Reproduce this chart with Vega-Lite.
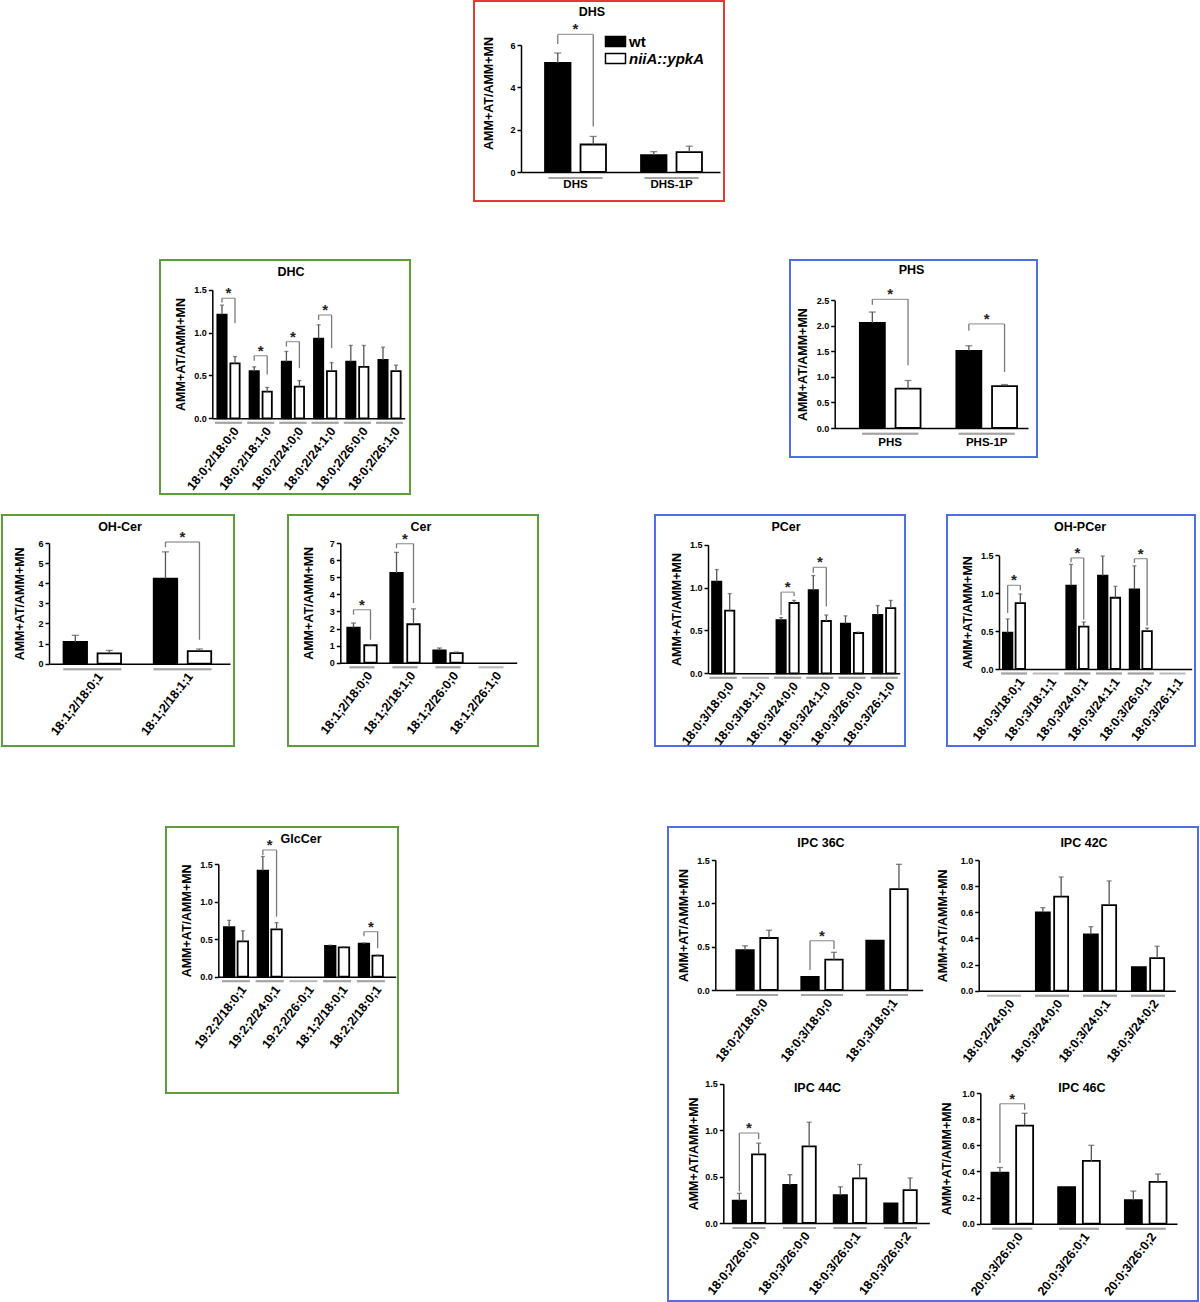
{
"$schema": "https://vega.github.io/schema/vega-lite/v6.json",
"padding": 0,
"background": "white",
"datasets": {
"bars": [
{"p":"DHS","c":"DHS","g":"wt","v":5.15,"e":5.62},
{"p":"DHS","c":"DHS","g":"niiA::ypkA","v":1.30,"e":1.68},
{"p":"DHS","c":"DHS-1P","g":"wt","v":0.80,"e":0.96},
{"p":"DHS","c":"DHS-1P","g":"niiA::ypkA","v":0.94,"e":1.22},
{"p":"DHC","c":"18:0;2/18:0;0","g":"wt","v":1.21,"e":1.32},
{"p":"DHC","c":"18:0;2/18:0;0","g":"niiA::ypkA","v":0.64,"e":0.72},
{"p":"DHC","c":"18:0;2/18:1;0","g":"wt","v":0.55,"e":0.60},
{"p":"DHC","c":"18:0;2/18:1;0","g":"niiA::ypkA","v":0.31,"e":0.36},
{"p":"DHC","c":"18:0;2/24:0;0","g":"wt","v":0.66,"e":0.78},
{"p":"DHC","c":"18:0;2/24:0;0","g":"niiA::ypkA","v":0.37,"e":0.44},
{"p":"DHC","c":"18:0;2/24:1;0","g":"wt","v":0.93,"e":1.09},
{"p":"DHC","c":"18:0;2/24:1;0","g":"niiA::ypkA","v":0.55,"e":0.65},
{"p":"DHC","c":"18:0;2/26:0;0","g":"wt","v":0.66,"e":0.85},
{"p":"DHC","c":"18:0;2/26:0;0","g":"niiA::ypkA","v":0.60,"e":0.85},
{"p":"DHC","c":"18:0;2/26:1;0","g":"wt","v":0.68,"e":0.83},
{"p":"DHC","c":"18:0;2/26:1;0","g":"niiA::ypkA","v":0.55,"e":0.62},
{"p":"PHS","c":"PHS","g":"wt","v":2.06,"e":2.27},
{"p":"PHS","c":"PHS","g":"niiA::ypkA","v":0.77,"e":0.93},
{"p":"PHS","c":"PHS-1P","g":"wt","v":1.51,"e":1.61},
{"p":"PHS","c":"PHS-1P","g":"niiA::ypkA","v":0.82,"e":0.85},
{"p":"OHCer","c":"18:1;2/18:0;1","g":"wt","v":1.08,"e":1.41},
{"p":"OHCer","c":"18:1;2/18:0;1","g":"niiA::ypkA","v":0.51,"e":0.66},
{"p":"OHCer","c":"18:1;2/18:1;1","g":"wt","v":4.23,"e":5.56},
{"p":"OHCer","c":"18:1;2/18:1;1","g":"niiA::ypkA","v":0.63,"e":0.73},
{"p":"Cer","c":"18:1;2/18:0;0","g":"wt","v":2.05,"e":2.32},
{"p":"Cer","c":"18:1;2/18:0;0","g":"niiA::ypkA","v":1.02,"e":1.05},
{"p":"Cer","c":"18:1;2/18:1;0","g":"wt","v":5.25,"e":6.45},
{"p":"Cer","c":"18:1;2/18:1;0","g":"niiA::ypkA","v":2.25,"e":3.15},
{"p":"Cer","c":"18:1;2/26:0;0","g":"wt","v":0.72,"e":0.86},
{"p":"Cer","c":"18:1;2/26:0;0","g":"niiA::ypkA","v":0.56,"e":0.62},
{"p":"Cer","c":"18:1;2/26:1;0","g":"wt","v":null,"e":null},
{"p":"PCer","c":"18:0;3/18:0;0","g":"wt","v":1.07,"e":1.21},
{"p":"PCer","c":"18:0;3/18:0;0","g":"niiA::ypkA","v":0.73,"e":0.93},
{"p":"PCer","c":"18:0;3/18:1;0","g":"wt","v":null,"e":null},
{"p":"PCer","c":"18:0;3/24:0;0","g":"wt","v":0.62,"e":0.65},
{"p":"PCer","c":"18:0;3/24:0;0","g":"niiA::ypkA","v":0.82,"e":0.85},
{"p":"PCer","c":"18:0;3/24:1;0","g":"wt","v":0.97,"e":1.14},
{"p":"PCer","c":"18:0;3/24:1;0","g":"niiA::ypkA","v":0.61,"e":0.68},
{"p":"PCer","c":"18:0;3/26:0;0","g":"wt","v":0.58,"e":0.67},
{"p":"PCer","c":"18:0;3/26:0;0","g":"niiA::ypkA","v":0.47,"e":0.48},
{"p":"PCer","c":"18:0;3/26:1;0","g":"wt","v":0.68,"e":0.79},
{"p":"PCer","c":"18:0;3/26:1;0","g":"niiA::ypkA","v":0.76,"e":0.85},
{"p":"OHPCer","c":"18:0;3/18:0;1","g":"wt","v":0.48,"e":0.66},
{"p":"OHPCer","c":"18:0;3/18:0;1","g":"niiA::ypkA","v":0.87,"e":0.99},
{"p":"OHPCer","c":"18:0;3/18:1;1","g":"wt","v":null,"e":null},
{"p":"OHPCer","c":"18:0;3/24:0;1","g":"wt","v":1.10,"e":1.38},
{"p":"OHPCer","c":"18:0;3/24:0;1","g":"niiA::ypkA","v":0.56,"e":0.62},
{"p":"OHPCer","c":"18:0;3/24:1;1","g":"wt","v":1.23,"e":1.49},
{"p":"OHPCer","c":"18:0;3/24:1;1","g":"niiA::ypkA","v":0.94,"e":1.09},
{"p":"OHPCer","c":"18:0;3/26:0;1","g":"wt","v":1.05,"e":1.36},
{"p":"OHPCer","c":"18:0;3/26:0;1","g":"niiA::ypkA","v":0.50,"e":0.54},
{"p":"OHPCer","c":"18:0;3/26:1;1","g":"wt","v":null,"e":null},
{"p":"GlcCer","c":"19:2;2/18:0;1","g":"wt","v":0.66,"e":0.75},
{"p":"GlcCer","c":"19:2;2/18:0;1","g":"niiA::ypkA","v":0.47,"e":0.61},
{"p":"GlcCer","c":"19:2;2/24:0;1","g":"wt","v":1.41,"e":1.60},
{"p":"GlcCer","c":"19:2;2/24:0;1","g":"niiA::ypkA","v":0.63,"e":0.72},
{"p":"GlcCer","c":"19:2;2/26:0;1","g":"wt","v":null,"e":null},
{"p":"GlcCer","c":"18:1;2/18:0;1","g":"wt","v":0.41,"e":0.42},
{"p":"GlcCer","c":"18:1;2/18:0;1","g":"niiA::ypkA","v":0.39,"e":0.40},
{"p":"GlcCer","c":"18:2;2/18:0;1","g":"wt","v":0.44,"e":0.45},
{"p":"GlcCer","c":"18:2;2/18:0;1","g":"niiA::ypkA","v":0.28,"e":0.29},
{"p":"IPC36","c":"18:0;2/18:0;0","g":"wt","v":0.46,"e":0.51},
{"p":"IPC36","c":"18:0;2/18:0;0","g":"niiA::ypkA","v":0.60,"e":0.69},
{"p":"IPC36","c":"18:0;3/18:0;0","g":"wt","v":0.15,"e":null},
{"p":"IPC36","c":"18:0;3/18:0;0","g":"niiA::ypkA","v":0.35,"e":0.435},
{"p":"IPC36","c":"18:0;3/18:0;1","g":"wt","v":0.57,"e":null},
{"p":"IPC36","c":"18:0;3/18:0;1","g":"niiA::ypkA","v":1.165,"e":1.45},
{"p":"IPC42","c":"18:0;2/24:0;0","g":"wt","v":null,"e":null},
{"p":"IPC42","c":"18:0;3/24:0;0","g":"wt","v":0.60,"e":0.635},
{"p":"IPC42","c":"18:0;3/24:0;0","g":"niiA::ypkA","v":0.72,"e":0.87},
{"p":"IPC42","c":"18:0;3/24:0;1","g":"wt","v":0.43,"e":0.49},
{"p":"IPC42","c":"18:0;3/24:0;1","g":"niiA::ypkA","v":0.655,"e":0.84},
{"p":"IPC42","c":"18:0;3/24:0;2","g":"wt","v":0.18,"e":null},
{"p":"IPC42","c":"18:0;3/24:0;2","g":"niiA::ypkA","v":0.25,"e":0.34},
{"p":"IPC44","c":"18:0;2/26:0;0","g":"wt","v":0.24,"e":0.32},
{"p":"IPC44","c":"18:0;2/26:0;0","g":"niiA::ypkA","v":0.74,"e":0.86},
{"p":"IPC44","c":"18:0;3/26:0;0","g":"wt","v":0.41,"e":0.52},
{"p":"IPC44","c":"18:0;3/26:0;0","g":"niiA::ypkA","v":0.825,"e":1.085},
{"p":"IPC44","c":"18:0;3/26:0;1","g":"wt","v":0.30,"e":0.39},
{"p":"IPC44","c":"18:0;3/26:0;1","g":"niiA::ypkA","v":0.48,"e":0.63},
{"p":"IPC44","c":"18:0;3/26:0;2","g":"wt","v":0.21,"e":null},
{"p":"IPC44","c":"18:0;3/26:0;2","g":"niiA::ypkA","v":0.355,"e":0.485},
{"p":"IPC46","c":"20:0;3/26:0;0","g":"wt","v":0.39,"e":0.43},
{"p":"IPC46","c":"20:0;3/26:0;0","g":"niiA::ypkA","v":0.75,"e":0.845},
{"p":"IPC46","c":"20:0;3/26:0;1","g":"wt","v":0.28,"e":null},
{"p":"IPC46","c":"20:0;3/26:0;1","g":"niiA::ypkA","v":0.48,"e":0.60},
{"p":"IPC46","c":"20:0;3/26:0;2","g":"wt","v":0.18,"e":0.25},
{"p":"IPC46","c":"20:0;3/26:0;2","g":"niiA::ypkA","v":0.32,"e":0.38}
],
"brackets": [
{"p":"DHS","c":"DHS","lv":6.5,"a":6.05,"b":2.15},
{"p":"DHC","c":"18:0;2/18:0;0","lv":1.40,"a":1.35,"b":1.11},
{"p":"DHC","c":"18:0;2/18:1;0","lv":0.73,"a":0.67,"b":0.51},
{"p":"DHC","c":"18:0;2/24:0;0","lv":0.895,"a":0.837,"b":0.585},
{"p":"DHC","c":"18:0;2/24:1;0","lv":1.205,"a":1.147,"b":0.818},
{"p":"PHS","c":"PHS","lv":2.52,"a":2.415,"b":1.227},
{"p":"PHS","c":"PHS-1P","lv":2.037,"a":1.906,"b":1.097},
{"p":"OHCer","c":"18:1;2/18:1;1","lv":6.05,"a":5.79,"b":1.19},
{"p":"Cer","c":"18:1;2/18:0;0","lv":3.1,"a":2.81,"b":1.34},
{"p":"Cer","c":"18:1;2/18:1;0","lv":6.96,"a":6.7,"b":3.49},
{"p":"PCer","c":"18:0;3/24:0;0","lv":0.946,"a":0.68,"b":0.903},
{"p":"PCer","c":"18:0;3/24:1;0","lv":1.236,"a":1.174,"b":0.779},
{"p":"OHPCer","c":"18:0;3/18:0;1","lv":1.104,"a":0.739,"b":1.038},
{"p":"OHPCer","c":"18:0;3/24:0;1","lv":1.465,"a":1.408,"b":0.651},
{"p":"OHPCer","c":"18:0;3/26:0;1","lv":1.456,"a":1.40,"b":0.572},
{"p":"GlcCer","c":"19:2;2/24:0;1","lv":1.687,"a":1.62,"b":0.80},
{"p":"GlcCer","c":"18:2;2/18:0;1","lv":0.60,"a":0.54,"b":0.377},
{"p":"IPC36","c":"18:0;3/18:0;0","lv":0.569,"a":0.23,"b":0.473},
{"p":"IPC44","c":"18:0;2/26:0;0","lv":0.969,"a":0.341,"b":0.904},
{"p":"IPC46","c":"20:0;3/26:0;0","lv":0.918,"a":0.464,"b":0.872}
]
},
"config": {
 "view": {"stroke": null},
 "font": "Liberation Sans",
 "axis": {"grid": false, "labelFont": "Liberation Sans", "titleFont": "Liberation Sans", "labelColor": "black", "titleColor": "black", "domainColor": "black", "tickColor": "black", "domainWidth": 1.5, "tickWidth": 1.5, "labelFontWeight": "bold", "titleFontWeight": "bold"},
 "axisX": {"ticks": false, "labelFontSize": 12.5, "labelAngle": -52, "labelAlign": "right", "labelBaseline": "middle", "labelPadding": 10, "labelOffset": 8, "labelOverlap": false, "labelBound": false},
 "axisY": {"tickSize": 4, "labelFontSize": 9, "labelPadding": 2, "titleFontSize": 12.5, "labelOverlap": false},
 "title": {"font": "Liberation Sans", "fontSize": 12.5, "fontWeight": "bold", "color": "black", "baseline": "middle", "frame": "group", "anchor": "middle"}
},
"spacing": 57,
"bounds": "full",
"resolve": {"scale": {"xOffset": "independent"}},
"vconcat": [
{"hconcat": [
 {"width": 474, "height": 1, "data": {"values": []}, "mark": "point"},
 {"width": 250, "height": 200, "view": {"stroke": "#e23b32", "strokeWidth": 2},
  "title": {"text": "DHS", "dx": -7, "offset": -17},
  "data": {"name": "bars"}, "transform": [{"filter": "datum.p === 'DHS'"}],
  "encoding": {"x": {"field": "c", "type": "nominal", "title": null, "scale": {"domain": ["DHS","DHS-1P"], "range": [47,246], "paddingInner": 0.291, "paddingOuter": 0.182, "align": 0.586}, "axis": {"orient": "bottom", "offset": -29, "labelAngle": 0, "labelAlign": "center", "labelBaseline": "top", "labelPadding": 6, "labelOffset": 0, "labelFontSize": 11.5}}},
  "layer": [
   {"mark": {"type": "bar", "stroke": "black", "strokeWidth": 1.8}, "encoding": {
     "xOffset": {"field": "g", "type": "nominal", "scale": {"domain": ["wt","niiA::ypkA"], "paddingInner": 0.282, "paddingOuter": 0.1}},
     "y": {"field": "v", "type": "quantitative", "scale": {"domain": [0,6], "range": [171,44], "nice": false}, "axis": {"orient": "left", "offset": -47, "values": [0,2,4,6], "tickCount": 4, "labelOverlap": false, "title": "AMM+AT/AMM+MN", "titleX": -26, "titleY": 92}},
     "fill": {"field": "g", "type": "nominal", "scale": {"domain": ["wt","niiA::ypkA"], "range": ["black","white"]}, "legend": {"orient": "none", "legendX": 608, "legendY": 33, "title": null, "direction": "vertical", "padding": 0, "symbolType": "M-1.5,-0.75H1.5V0.75H-1.5Z", "symbolSize": 178, "symbolStrokeColor": "black", "symbolStrokeWidth": 1.5, "labelFont": "Liberation Sans", "labelFontSize": 15, "labelFontWeight": "bold", "labelColor": "black", "labelOffset": 6, "rowPadding": 0, "encode": {"labels": {"update": {"fontStyle": {"signal": "datum.label === 'wt' ? 'normal' : 'italic'"}}}}}}}},
   {"transform": [{"filter": "isValid(datum.e)"}], "mark": {"type": "rule", "color": "#555555", "strokeWidth": 1.3}, "encoding": {
     "xOffset": {"field": "g", "type": "nominal", "scale": {"domain": ["wt","niiA::ypkA"], "paddingInner": 0.282, "paddingOuter": 0.1}},
     "y": {"field": "v", "type": "quantitative", "scale": {"domain": [0,6], "range": [171,44], "nice": false}}, "y2": {"field": "e"}}},
   {"transform": [{"filter": "isValid(datum.e)"}], "mark": {"type": "tick", "orient": "horizontal", "size": 7, "thickness": 1.3, "color": "#555555"}, "encoding": {
     "xOffset": {"field": "g", "type": "nominal", "scale": {"domain": ["wt","niiA::ypkA"], "paddingInner": 0.282, "paddingOuter": 0.1}},
     "y": {"field": "e", "type": "quantitative", "scale": {"domain": [0,6], "range": [171,44], "nice": false}}}},
   {"mark": {"type": "tick", "orient": "horizontal", "size": 54, "thickness": 2, "color": "#9a9a9a", "yOffset": 6}, "encoding": {"y": {"datum": 0, "type": "quantitative", "scale": {"domain": [0,6], "range": [171,44], "nice": false}}}},
   {"data": {"name": "brackets"}, "transform": [{"filter": "datum.p === 'DHS'"}], "layer": [
     {"mark": {"type": "rule", "color": "#7a7a7a", "strokeWidth": 1.3}, "encoding": {"xOffset": {"datum": "wt", "type": "nominal", "scale": {"domain": ["wt","niiA::ypkA"], "paddingInner": 0.282, "paddingOuter": 0.1}}, "y": {"field": "a", "type": "quantitative", "scale": {"domain": [0,6], "range": [171,44], "nice": false}}, "y2": {"field": "lv"}}},
     {"mark": {"type": "rule", "color": "#7a7a7a", "strokeWidth": 1.3}, "encoding": {"xOffset": {"datum": "niiA::ypkA", "type": "nominal", "scale": {"domain": ["wt","niiA::ypkA"], "paddingInner": 0.282, "paddingOuter": 0.1}}, "y": {"field": "b", "type": "quantitative", "scale": {"domain": [0,6], "range": [171,44], "nice": false}}, "y2": {"field": "lv"}}},
     {"mark": {"type": "tick", "orient": "horizontal", "size": 35.5, "thickness": 1.3, "color": "#7a7a7a"}, "encoding": {"y": {"field": "lv", "type": "quantitative", "scale": {"domain": [0,6], "range": [171,44], "nice": false}}}},
     {"mark": {"type": "text", "text": "*", "fontSize": 15, "fontWeight": "bold", "color": "#222222", "baseline": "alphabetic", "dy": 0}, "encoding": {"y": {"field": "lv", "type": "quantitative", "scale": {"domain": [0,6], "range": [171,44], "nice": false}}}}
   ]}
  ]}
 ], "spacing": 0, "bounds": "flush", "resolve": {"scale": {"xOffset": "independent"}}},
{"spacing": 19, "bounds": "full", "resolve": {"scale": {"xOffset": "independent"}}, "vconcat": [
 {"hconcat": [
  {"width": 160, "height": 1, "data": {"values": []}, "mark": "point"},
  {"width": 250, "height": 234, "view": {"stroke": "#5e9e3a", "strokeWidth": 2},
   "title": {"text": "DHC", "dx": 6, "offset": -18},
   "data": {"name": "bars"}, "transform": [{"filter": "datum.p === 'DHC'"}],
   "encoding": {"x": {"field": "c", "type": "nominal", "title": null, "scale": {"domain": ["18:0;2/18:0;0","18:0;2/18:1;0","18:0;2/24:0;0","18:0;2/24:1;0","18:0;2/26:0;0","18:0;2/26:1;0"], "range": [52.3,244.7], "paddingInner": 0.227, "paddingOuter": 0.101, "align": 0.577}, "axis": {"orient": "bottom", "offset": -75.7}}},
   "layer": [
    {"mark": {"type": "bar", "stroke": "black", "strokeWidth": 1.8}, "encoding": {
      "xOffset": {"field": "g", "type": "nominal", "scale": {"domain": ["wt","niiA::ypkA"], "paddingInner": 0.285, "paddingOuter": 0.1}},
      "y": {"field": "v", "type": "quantitative", "scale": {"domain": [0,1.5], "range": [158.3,29.7], "nice": false}, "axis": {"orient": "left", "offset": -52.3, "values": [0,0.5,1,1.5], "tickCount": 4, "labelOverlap": false, "format": ".1f", "title": "AMM+AT/AMM+MN", "titleX": -25}},
      "fill": {"field": "g", "type": "nominal", "scale": {"domain": ["wt","niiA::ypkA"], "range": ["black","white"]}, "legend": null}}},
    {"transform": [{"filter": "isValid(datum.e)"}], "mark": {"type": "rule", "color": "#555555", "strokeWidth": 1.3}, "encoding": {
      "xOffset": {"field": "g", "type": "nominal", "scale": {"domain": ["wt","niiA::ypkA"], "paddingInner": 0.285, "paddingOuter": 0.1}},
      "y": {"field": "v", "type": "quantitative", "scale": {"domain": [0,1.5], "range": [158.3,29.7], "nice": false}}, "y2": {"field": "e"}}},
    {"transform": [{"filter": "isValid(datum.e)"}], "mark": {"type": "tick", "orient": "horizontal", "size": 4, "thickness": 1.3, "color": "#555555"}, "encoding": {
      "xOffset": {"field": "g", "type": "nominal", "scale": {"domain": ["wt","niiA::ypkA"], "paddingInner": 0.285, "paddingOuter": 0.1}},
      "y": {"field": "e", "type": "quantitative", "scale": {"domain": [0,1.5], "range": [158.3,29.7], "nice": false}}}},
    {"mark": {"type": "tick", "orient": "horizontal", "size": 27, "thickness": 2, "color": "#9a9a9a", "yOffset": 4.5}, "encoding": {"y": {"datum": 0, "type": "quantitative", "scale": {"domain": [0,1.5], "range": [158.3,29.7], "nice": false}}}},
    {"data": {"name": "brackets"}, "transform": [{"filter": "datum.p === 'DHC'"}], "layer": [
      {"mark": {"type": "rule", "color": "#7a7a7a", "strokeWidth": 1.3}, "encoding": {"xOffset": {"datum": "wt", "type": "nominal", "scale": {"domain": ["wt","niiA::ypkA"], "paddingInner": 0.285, "paddingOuter": 0.1}}, "y": {"field": "a", "type": "quantitative", "scale": {"domain": [0,1.5], "range": [158.3,29.7], "nice": false}}, "y2": {"field": "lv"}}},
      {"mark": {"type": "rule", "color": "#7a7a7a", "strokeWidth": 1.3}, "encoding": {"xOffset": {"datum": "niiA::ypkA", "type": "nominal", "scale": {"domain": ["wt","niiA::ypkA"], "paddingInner": 0.285, "paddingOuter": 0.1}}, "y": {"field": "b", "type": "quantitative", "scale": {"domain": [0,1.5], "range": [158.3,29.7], "nice": false}}, "y2": {"field": "lv"}}},
      {"mark": {"type": "tick", "orient": "horizontal", "size": 13, "thickness": 1.3, "color": "#7a7a7a"}, "encoding": {"y": {"field": "lv", "type": "quantitative", "scale": {"domain": [0,1.5], "range": [158.3,29.7], "nice": false}}}},
      {"mark": {"type": "text", "text": "*", "fontSize": 15, "fontWeight": "bold", "color": "#222222", "baseline": "alphabetic", "dy": 0}, "encoding": {"y": {"field": "lv", "type": "quantitative", "scale": {"domain": [0,1.5], "range": [158.3,29.7], "nice": false}}}}
    ]}
   ]},
  {"width": 380, "height": 1, "data": {"values": []}, "mark": "point"},
  {"width": 247, "height": 197, "view": {"stroke": "#4d6fe0", "strokeWidth": 2},
   "title": {"text": "PHS", "dx": -2, "offset": -16},
   "data": {"name": "bars"}, "transform": [{"filter": "datum.p === 'PHS'"}],
   "encoding": {"x": {"field": "c", "type": "nominal", "title": null, "scale": {"domain": ["PHS","PHS-1P"], "range": [44.7,238], "paddingInner": 0.297, "paddingOuter": 0.15, "align": 0.745}, "axis": {"orient": "bottom", "offset": -29, "labelAngle": 0, "labelAlign": "center", "labelBaseline": "top", "labelPadding": 8, "labelOffset": 0, "labelFontSize": 11.5}}},
   "layer": [
    {"mark": {"type": "bar", "stroke": "black", "strokeWidth": 1.8}, "encoding": {
      "xOffset": {"field": "g", "type": "nominal", "scale": {"domain": ["wt","niiA::ypkA"], "paddingInner": 0.3, "paddingOuter": 0.1}},
      "y": {"field": "v", "type": "quantitative", "scale": {"domain": [0,2.5], "range": [168,40.3], "nice": false}, "axis": {"orient": "left", "offset": -44.7, "values": [0,0.5,1,1.5,2,2.5], "tickCount": 6, "labelOverlap": false, "format": ".1f", "title": "AMM+AT/AMM+MN", "titleX": -25}},
      "fill": {"field": "g", "type": "nominal", "scale": {"domain": ["wt","niiA::ypkA"], "range": ["black","white"]}, "legend": null}}},
    {"transform": [{"filter": "isValid(datum.e)"}], "mark": {"type": "rule", "color": "#555555", "strokeWidth": 1.3}, "encoding": {
      "xOffset": {"field": "g", "type": "nominal", "scale": {"domain": ["wt","niiA::ypkA"], "paddingInner": 0.3, "paddingOuter": 0.1}},
      "y": {"field": "v", "type": "quantitative", "scale": {"domain": [0,2.5], "range": [168,40.3], "nice": false}}, "y2": {"field": "e"}}},
    {"transform": [{"filter": "isValid(datum.e)"}], "mark": {"type": "tick", "orient": "horizontal", "size": 7, "thickness": 1.3, "color": "#555555"}, "encoding": {
      "xOffset": {"field": "g", "type": "nominal", "scale": {"domain": ["wt","niiA::ypkA"], "paddingInner": 0.3, "paddingOuter": 0.1}},
      "y": {"field": "e", "type": "quantitative", "scale": {"domain": [0,2.5], "range": [168,40.3], "nice": false}}}},
    {"mark": {"type": "tick", "orient": "horizontal", "size": 56, "thickness": 2, "color": "#9a9a9a", "yOffset": 5.7}, "encoding": {"y": {"datum": 0, "type": "quantitative", "scale": {"domain": [0,2.5], "range": [168,40.3], "nice": false}}}},
    {"data": {"name": "brackets"}, "transform": [{"filter": "datum.p === 'PHS'"}], "layer": [
      {"mark": {"type": "rule", "color": "#7a7a7a", "strokeWidth": 1.3}, "encoding": {"xOffset": {"datum": "wt", "type": "nominal", "scale": {"domain": ["wt","niiA::ypkA"], "paddingInner": 0.3, "paddingOuter": 0.1}}, "y": {"field": "a", "type": "quantitative", "scale": {"domain": [0,2.5], "range": [168,40.3], "nice": false}}, "y2": {"field": "lv"}}},
      {"mark": {"type": "rule", "color": "#7a7a7a", "strokeWidth": 1.3}, "encoding": {"xOffset": {"datum": "niiA::ypkA", "type": "nominal", "scale": {"domain": ["wt","niiA::ypkA"], "paddingInner": 0.3, "paddingOuter": 0.1}}, "y": {"field": "b", "type": "quantitative", "scale": {"domain": [0,2.5], "range": [168,40.3], "nice": false}}, "y2": {"field": "lv"}}},
      {"mark": {"type": "tick", "orient": "horizontal", "size": 35.7, "thickness": 1.3, "color": "#7a7a7a"}, "encoding": {"y": {"field": "lv", "type": "quantitative", "scale": {"domain": [0,2.5], "range": [168,40.3], "nice": false}}}},
      {"mark": {"type": "text", "text": "*", "fontSize": 15, "fontWeight": "bold", "color": "#222222", "baseline": "alphabetic", "dy": 0}, "encoding": {"y": {"field": "lv", "type": "quantitative", "scale": {"domain": [0,2.5], "range": [168,40.3], "nice": false}}}}
    ]}
   ]}
 ], "spacing": 0, "bounds": "flush", "resolve": {"scale": {"xOffset": "independent"}}},
 {"spacing": 78, "bounds": "full", "resolve": {"scale": {"xOffset": "independent"}}, "vconcat": [
  {"hconcat": [
   {"width": 2, "height": 1, "data": {"values": []}, "mark": "point"},
   {"width": 232, "height": 231, "view": {"stroke": "#5e9e3a", "strokeWidth": 2},
    "title": {"text": "OH-Cer", "dx": 2, "offset": -18},
    "data": {"name": "bars"}, "transform": [{"filter": "datum.p === 'OHCer'"}],
    "encoding": {"x": {"field": "c", "type": "nominal", "title": null, "scale": {"domain": ["18:1;2/18:0;1","18:1;2/18:1;1"], "range": [47,228], "paddingInner": 0.287, "paddingOuter": 0.147, "align": 0.42}, "axis": {"orient": "bottom", "offset": -82.3}}},
    "layer": [
     {"mark": {"type": "bar", "stroke": "black", "strokeWidth": 1.8}, "encoding": {
       "xOffset": {"field": "g", "type": "nominal", "scale": {"domain": ["wt","niiA::ypkA"], "paddingInner": 0.309, "paddingOuter": 0.1}},
       "y": {"field": "v", "type": "quantitative", "scale": {"domain": [0,6], "range": [148.7,28], "nice": false}, "axis": {"orient": "left", "offset": -47, "values": [0,1,2,3,4,5,6], "tickCount": 7, "labelOverlap": false, "title": "AMM+AT/AMM+MN", "titleX": -23}},
       "fill": {"field": "g", "type": "nominal", "scale": {"domain": ["wt","niiA::ypkA"], "range": ["black","white"]}, "legend": null}}},
     {"transform": [{"filter": "isValid(datum.e)"}], "mark": {"type": "rule", "color": "#555555", "strokeWidth": 1.3}, "encoding": {
       "xOffset": {"field": "g", "type": "nominal", "scale": {"domain": ["wt","niiA::ypkA"], "paddingInner": 0.309, "paddingOuter": 0.1}},
       "y": {"field": "v", "type": "quantitative", "scale": {"domain": [0,6], "range": [148.7,28], "nice": false}}, "y2": {"field": "e"}}},
     {"transform": [{"filter": "isValid(datum.e)"}], "mark": {"type": "tick", "orient": "horizontal", "size": 7, "thickness": 1.3, "color": "#555555"}, "encoding": {
       "xOffset": {"field": "g", "type": "nominal", "scale": {"domain": ["wt","niiA::ypkA"], "paddingInner": 0.309, "paddingOuter": 0.1}},
       "y": {"field": "e", "type": "quantitative", "scale": {"domain": [0,6], "range": [148.7,28], "nice": false}}}},
     {"mark": {"type": "tick", "orient": "horizontal", "size": 58, "thickness": 2, "color": "#9a9a9a", "yOffset": 5.6}, "encoding": {"y": {"datum": 0, "type": "quantitative", "scale": {"domain": [0,6], "range": [148.7,28], "nice": false}}}},
     {"data": {"name": "brackets"}, "transform": [{"filter": "datum.p === 'OHCer'"}], "layer": [
       {"mark": {"type": "rule", "color": "#7a7a7a", "strokeWidth": 1.3}, "encoding": {"xOffset": {"datum": "wt", "type": "nominal", "scale": {"domain": ["wt","niiA::ypkA"], "paddingInner": 0.309, "paddingOuter": 0.1}}, "y": {"field": "a", "type": "quantitative", "scale": {"domain": [0,6], "range": [148.7,28], "nice": false}}, "y2": {"field": "lv"}}},
       {"mark": {"type": "rule", "color": "#7a7a7a", "strokeWidth": 1.3}, "encoding": {"xOffset": {"datum": "niiA::ypkA", "type": "nominal", "scale": {"domain": ["wt","niiA::ypkA"], "paddingInner": 0.309, "paddingOuter": 0.1}}, "y": {"field": "b", "type": "quantitative", "scale": {"domain": [0,6], "range": [148.7,28], "nice": false}}, "y2": {"field": "lv"}}},
       {"mark": {"type": "tick", "orient": "horizontal", "size": 34, "thickness": 1.3, "color": "#7a7a7a"}, "encoding": {"y": {"field": "lv", "type": "quantitative", "scale": {"domain": [0,6], "range": [148.7,28], "nice": false}}}},
       {"mark": {"type": "text", "text": "*", "fontSize": 15, "fontWeight": "bold", "color": "#222222", "baseline": "alphabetic", "dy": 0}, "encoding": {"y": {"field": "lv", "type": "quantitative", "scale": {"domain": [0,6], "range": [148.7,28], "nice": false}}}}
     ]}
    ]},
   {"width": 54, "height": 1, "data": {"values": []}, "mark": "point"},
   {"width": 250, "height": 231, "view": {"stroke": "#5e9e3a", "strokeWidth": 2},
    "title": {"text": "Cer", "dx": 8, "offset": -18},
    "data": {"name": "bars"}, "transform": [{"filter": "datum.p === 'Cer'"}],
    "encoding": {"x": {"field": "c", "type": "nominal", "title": null, "scale": {"domain": ["18:1;2/18:0;0","18:1;2/18:1;0","18:1;2/26:0;0","18:1;2/26:1;0"], "range": [52.3,228.7], "paddingInner": 0.235, "paddingOuter": 0.169, "align": 0.362}, "axis": {"orient": "bottom", "offset": -83.3}}},
    "layer": [
     {"mark": {"type": "bar", "stroke": "black", "strokeWidth": 1.8}, "encoding": {
       "xOffset": {"field": "g", "type": "nominal", "scale": {"domain": ["wt","niiA::ypkA"], "paddingInner": 0.265, "paddingOuter": 0.1}},
       "y": {"field": "v", "type": "quantitative", "scale": {"domain": [0,7], "range": [147.7,28], "nice": false}, "axis": {"orient": "left", "offset": -52.3, "values": [0,1,2,3,4,5,6,7], "tickCount": 8, "labelOverlap": false, "title": "AMM+AT/AMM+MN", "titleX": -25}},
       "fill": {"field": "g", "type": "nominal", "scale": {"domain": ["wt","niiA::ypkA"], "range": ["black","white"]}, "legend": null}}},
     {"transform": [{"filter": "isValid(datum.e)"}], "mark": {"type": "rule", "color": "#555555", "strokeWidth": 1.3}, "encoding": {
       "xOffset": {"field": "g", "type": "nominal", "scale": {"domain": ["wt","niiA::ypkA"], "paddingInner": 0.265, "paddingOuter": 0.1}},
       "y": {"field": "v", "type": "quantitative", "scale": {"domain": [0,7], "range": [147.7,28], "nice": false}}, "y2": {"field": "e"}}},
     {"transform": [{"filter": "isValid(datum.e)"}], "mark": {"type": "tick", "orient": "horizontal", "size": 5, "thickness": 1.3, "color": "#555555"}, "encoding": {
       "xOffset": {"field": "g", "type": "nominal", "scale": {"domain": ["wt","niiA::ypkA"], "paddingInner": 0.265, "paddingOuter": 0.1}},
       "y": {"field": "e", "type": "quantitative", "scale": {"domain": [0,7], "range": [147.7,28], "nice": false}}}},
     {"mark": {"type": "tick", "orient": "horizontal", "size": 25, "thickness": 2, "color": "#9a9a9a", "yOffset": 4.6}, "encoding": {"y": {"datum": 0, "type": "quantitative", "scale": {"domain": [0,7], "range": [147.7,28], "nice": false}}}},
     {"data": {"name": "brackets"}, "transform": [{"filter": "datum.p === 'Cer'"}], "layer": [
       {"mark": {"type": "rule", "color": "#7a7a7a", "strokeWidth": 1.3}, "encoding": {"xOffset": {"datum": "wt", "type": "nominal", "scale": {"domain": ["wt","niiA::ypkA"], "paddingInner": 0.265, "paddingOuter": 0.1}}, "y": {"field": "a", "type": "quantitative", "scale": {"domain": [0,7], "range": [147.7,28], "nice": false}}, "y2": {"field": "lv"}}},
       {"mark": {"type": "rule", "color": "#7a7a7a", "strokeWidth": 1.3}, "encoding": {"xOffset": {"datum": "niiA::ypkA", "type": "nominal", "scale": {"domain": ["wt","niiA::ypkA"], "paddingInner": 0.265, "paddingOuter": 0.1}}, "y": {"field": "b", "type": "quantitative", "scale": {"domain": [0,7], "range": [147.7,28], "nice": false}}, "y2": {"field": "lv"}}},
       {"mark": {"type": "tick", "orient": "horizontal", "size": 17, "thickness": 1.3, "color": "#7a7a7a"}, "encoding": {"y": {"field": "lv", "type": "quantitative", "scale": {"domain": [0,7], "range": [147.7,28], "nice": false}}}},
       {"mark": {"type": "text", "text": "*", "fontSize": 15, "fontWeight": "bold", "color": "#222222", "baseline": "alphabetic", "dy": 0}, "encoding": {"y": {"field": "lv", "type": "quantitative", "scale": {"domain": [0,7], "range": [147.7,28], "nice": false}}}}
     ]}
    ]},
   {"width": 117, "height": 1, "data": {"values": []}, "mark": "point"},
   {"width": 250, "height": 231, "view": {"stroke": "#4d6fe0", "strokeWidth": 2},
    "title": {"text": "PCer", "dx": 6, "offset": -18},
    "data": {"name": "bars"}, "transform": [{"filter": "datum.p === 'PCer'"}],
    "encoding": {"x": {"field": "c", "type": "nominal", "title": null, "scale": {"domain": ["18:0;3/18:0;0","18:0;3/18:1;0","18:0;3/24:0;0","18:0;3/24:1;0","18:0;3/26:0;0","18:0;3/26:1;0"], "range": [53,244.7], "paddingInner": 0.227, "paddingOuter": 0.09, "align": 0.474}, "axis": {"orient": "bottom", "offset": -72.7}}},
    "layer": [
     {"mark": {"type": "bar", "stroke": "black", "strokeWidth": 1.8}, "encoding": {
       "xOffset": {"field": "g", "type": "nominal", "scale": {"domain": ["wt","niiA::ypkA"], "paddingInner": 0.285, "paddingOuter": 0.1}},
       "y": {"field": "v", "type": "quantitative", "scale": {"domain": [0,1.5], "range": [158.3,29.7], "nice": false}, "axis": {"orient": "left", "offset": -53, "values": [0,0.5,1,1.5], "tickCount": 4, "labelOverlap": false, "format": ".1f", "title": "AMM+AT/AMM+MN", "titleX": -25}},
       "fill": {"field": "g", "type": "nominal", "scale": {"domain": ["wt","niiA::ypkA"], "range": ["black","white"]}, "legend": null}}},
     {"transform": [{"filter": "isValid(datum.e)"}], "mark": {"type": "rule", "color": "#555555", "strokeWidth": 1.3}, "encoding": {
       "xOffset": {"field": "g", "type": "nominal", "scale": {"domain": ["wt","niiA::ypkA"], "paddingInner": 0.285, "paddingOuter": 0.1}},
       "y": {"field": "v", "type": "quantitative", "scale": {"domain": [0,1.5], "range": [158.3,29.7], "nice": false}}, "y2": {"field": "e"}}},
     {"transform": [{"filter": "isValid(datum.e)"}], "mark": {"type": "tick", "orient": "horizontal", "size": 4, "thickness": 1.3, "color": "#555555"}, "encoding": {
       "xOffset": {"field": "g", "type": "nominal", "scale": {"domain": ["wt","niiA::ypkA"], "paddingInner": 0.285, "paddingOuter": 0.1}},
       "y": {"field": "e", "type": "quantitative", "scale": {"domain": [0,1.5], "range": [158.3,29.7], "nice": false}}}},
     {"mark": {"type": "tick", "orient": "horizontal", "size": 27, "thickness": 2, "color": "#9a9a9a", "yOffset": 4.5}, "encoding": {"y": {"datum": 0, "type": "quantitative", "scale": {"domain": [0,1.5], "range": [158.3,29.7], "nice": false}}}},
     {"data": {"name": "brackets"}, "transform": [{"filter": "datum.p === 'PCer'"}], "layer": [
       {"mark": {"type": "rule", "color": "#7a7a7a", "strokeWidth": 1.3}, "encoding": {"xOffset": {"datum": "wt", "type": "nominal", "scale": {"domain": ["wt","niiA::ypkA"], "paddingInner": 0.285, "paddingOuter": 0.1}}, "y": {"field": "a", "type": "quantitative", "scale": {"domain": [0,1.5], "range": [158.3,29.7], "nice": false}}, "y2": {"field": "lv"}}},
       {"mark": {"type": "rule", "color": "#7a7a7a", "strokeWidth": 1.3}, "encoding": {"xOffset": {"datum": "niiA::ypkA", "type": "nominal", "scale": {"domain": ["wt","niiA::ypkA"], "paddingInner": 0.285, "paddingOuter": 0.1}}, "y": {"field": "b", "type": "quantitative", "scale": {"domain": [0,1.5], "range": [158.3,29.7], "nice": false}}, "y2": {"field": "lv"}}},
       {"mark": {"type": "tick", "orient": "horizontal", "size": 13, "thickness": 1.3, "color": "#7a7a7a"}, "encoding": {"y": {"field": "lv", "type": "quantitative", "scale": {"domain": [0,1.5], "range": [158.3,29.7], "nice": false}}}},
       {"mark": {"type": "text", "text": "*", "fontSize": 15, "fontWeight": "bold", "color": "#222222", "baseline": "alphabetic", "dy": 0}, "encoding": {"y": {"field": "lv", "type": "quantitative", "scale": {"domain": [0,1.5], "range": [158.3,29.7], "nice": false}}}}
     ]}
    ]},
   {"width": 42, "height": 1, "data": {"values": []}, "mark": "point"},
   {"width": 248, "height": 231, "view": {"stroke": "#4d6fe0", "strokeWidth": 2},
    "title": {"text": "OH-PCer", "dx": 9, "offset": -18},
    "data": {"name": "bars"}, "transform": [{"filter": "datum.p === 'OHPCer'"}],
    "encoding": {"x": {"field": "c", "type": "nominal", "title": null, "scale": {"domain": ["18:0;3/18:0;1","18:0;3/18:1;1","18:0;3/24:0;1","18:0;3/24:1;1","18:0;3/26:0;1","18:0;3/26:1;1"], "range": [52,244.7], "paddingInner": 0.22, "paddingOuter": 0.15, "align": 0.277}, "axis": {"orient": "bottom", "offset": -77}}},
    "layer": [
     {"mark": {"type": "bar", "stroke": "black", "strokeWidth": 1.8}, "encoding": {
       "xOffset": {"field": "g", "type": "nominal", "scale": {"domain": ["wt","niiA::ypkA"], "paddingInner": 0.252, "paddingOuter": 0.1}},
       "y": {"field": "v", "type": "quantitative", "scale": {"domain": [0,1.5], "range": [154,40.3], "nice": false}, "axis": {"orient": "left", "offset": -52, "values": [0,0.5,1,1.5], "tickCount": 4, "labelOverlap": false, "format": ".1f", "title": "AMM+AT/AMM+MN", "titleX": -25}},
       "fill": {"field": "g", "type": "nominal", "scale": {"domain": ["wt","niiA::ypkA"], "range": ["black","white"]}, "legend": null}}},
     {"transform": [{"filter": "isValid(datum.e)"}], "mark": {"type": "rule", "color": "#555555", "strokeWidth": 1.3}, "encoding": {
       "xOffset": {"field": "g", "type": "nominal", "scale": {"domain": ["wt","niiA::ypkA"], "paddingInner": 0.252, "paddingOuter": 0.1}},
       "y": {"field": "v", "type": "quantitative", "scale": {"domain": [0,1.5], "range": [154,40.3], "nice": false}}, "y2": {"field": "e"}}},
     {"transform": [{"filter": "isValid(datum.e)"}], "mark": {"type": "tick", "orient": "horizontal", "size": 4, "thickness": 1.3, "color": "#555555"}, "encoding": {
       "xOffset": {"field": "g", "type": "nominal", "scale": {"domain": ["wt","niiA::ypkA"], "paddingInner": 0.252, "paddingOuter": 0.1}},
       "y": {"field": "e", "type": "quantitative", "scale": {"domain": [0,1.5], "range": [154,40.3], "nice": false}}}},
     {"mark": {"type": "tick", "orient": "horizontal", "size": 26, "thickness": 2, "color": "#9a9a9a", "yOffset": 4.5}, "encoding": {"y": {"datum": 0, "type": "quantitative", "scale": {"domain": [0,1.5], "range": [154,40.3], "nice": false}}}},
     {"data": {"name": "brackets"}, "transform": [{"filter": "datum.p === 'OHPCer'"}], "layer": [
       {"mark": {"type": "rule", "color": "#7a7a7a", "strokeWidth": 1.3}, "encoding": {"xOffset": {"datum": "wt", "type": "nominal", "scale": {"domain": ["wt","niiA::ypkA"], "paddingInner": 0.252, "paddingOuter": 0.1}}, "y": {"field": "a", "type": "quantitative", "scale": {"domain": [0,1.5], "range": [154,40.3], "nice": false}}, "y2": {"field": "lv"}}},
       {"mark": {"type": "rule", "color": "#7a7a7a", "strokeWidth": 1.3}, "encoding": {"xOffset": {"datum": "niiA::ypkA", "type": "nominal", "scale": {"domain": ["wt","niiA::ypkA"], "paddingInner": 0.252, "paddingOuter": 0.1}}, "y": {"field": "b", "type": "quantitative", "scale": {"domain": [0,1.5], "range": [154,40.3], "nice": false}}, "y2": {"field": "lv"}}},
       {"mark": {"type": "tick", "orient": "horizontal", "size": 12.7, "thickness": 1.3, "color": "#7a7a7a"}, "encoding": {"y": {"field": "lv", "type": "quantitative", "scale": {"domain": [0,1.5], "range": [154,40.3], "nice": false}}}},
       {"mark": {"type": "text", "text": "*", "fontSize": 15, "fontWeight": "bold", "color": "#222222", "baseline": "alphabetic", "dy": 0}, "encoding": {"y": {"field": "lv", "type": "quantitative", "scale": {"domain": [0,1.5], "range": [154,40.3], "nice": false}}}}
     ]}
    ]}
  ], "spacing": 0, "bounds": "flush", "resolve": {"scale": {"xOffset": "independent"}}},
  {"hconcat": [
   {"width": 166, "height": 1, "data": {"values": []}, "mark": "point"},
   {"width": 232, "height": 266, "view": {"stroke": "#5e9e3a", "strokeWidth": 2},
    "title": {"text": "GlcCer", "dx": 19, "offset": -18},
    "data": {"name": "bars"}, "transform": [{"filter": "datum.p === 'GlcCer'"}],
    "encoding": {"x": {"field": "c", "type": "nominal", "title": null, "scale": {"domain": ["19:2;2/18:0;1","19:2;2/24:0;1","19:2;2/26:0;1","18:1;2/18:0;1","18:2;2/18:0;1"], "range": [52.3,229.7], "paddingInner": 0.2, "paddingOuter": 0.232, "align": 0.27}, "axis": {"orient": "bottom", "offset": -116.3}}},
    "layer": [
     {"mark": {"type": "bar", "stroke": "black", "strokeWidth": 1.8}, "encoding": {
       "xOffset": {"field": "g", "type": "nominal", "scale": {"domain": ["wt","niiA::ypkA"], "paddingInner": 0.234, "paddingOuter": 0.1}},
       "y": {"field": "v", "type": "quantitative", "scale": {"domain": [0,1.5], "range": [149.7,37], "nice": false}, "axis": {"orient": "left", "offset": -52.3, "values": [0,0.5,1,1.5], "tickCount": 4, "labelOverlap": false, "format": ".1f", "title": "AMM+AT/AMM+MN", "titleX": -25}},
       "fill": {"field": "g", "type": "nominal", "scale": {"domain": ["wt","niiA::ypkA"], "range": ["black","white"]}, "legend": null}}},
     {"transform": [{"filter": "isValid(datum.e)"}], "mark": {"type": "rule", "color": "#555555", "strokeWidth": 1.3}, "encoding": {
       "xOffset": {"field": "g", "type": "nominal", "scale": {"domain": ["wt","niiA::ypkA"], "paddingInner": 0.234, "paddingOuter": 0.1}},
       "y": {"field": "v", "type": "quantitative", "scale": {"domain": [0,1.5], "range": [149.7,37], "nice": false}}, "y2": {"field": "e"}}},
     {"transform": [{"filter": "isValid(datum.e)"}], "mark": {"type": "tick", "orient": "horizontal", "size": 4, "thickness": 1.3, "color": "#555555"}, "encoding": {
       "xOffset": {"field": "g", "type": "nominal", "scale": {"domain": ["wt","niiA::ypkA"], "paddingInner": 0.234, "paddingOuter": 0.1}},
       "y": {"field": "e", "type": "quantitative", "scale": {"domain": [0,1.5], "range": [149.7,37], "nice": false}}}},
     {"mark": {"type": "tick", "orient": "horizontal", "size": 28, "thickness": 2, "color": "#9a9a9a", "yOffset": 4.5}, "encoding": {"y": {"datum": 0, "type": "quantitative", "scale": {"domain": [0,1.5], "range": [149.7,37], "nice": false}}}},
     {"data": {"name": "brackets"}, "transform": [{"filter": "datum.p === 'GlcCer'"}], "layer": [
       {"mark": {"type": "rule", "color": "#7a7a7a", "strokeWidth": 1.3}, "encoding": {"xOffset": {"datum": "wt", "type": "nominal", "scale": {"domain": ["wt","niiA::ypkA"], "paddingInner": 0.234, "paddingOuter": 0.1}}, "y": {"field": "a", "type": "quantitative", "scale": {"domain": [0,1.5], "range": [149.7,37], "nice": false}}, "y2": {"field": "lv"}}},
       {"mark": {"type": "rule", "color": "#7a7a7a", "strokeWidth": 1.3}, "encoding": {"xOffset": {"datum": "niiA::ypkA", "type": "nominal", "scale": {"domain": ["wt","niiA::ypkA"], "paddingInner": 0.234, "paddingOuter": 0.1}}, "y": {"field": "b", "type": "quantitative", "scale": {"domain": [0,1.5], "range": [149.7,37], "nice": false}}, "y2": {"field": "lv"}}},
       {"mark": {"type": "tick", "orient": "horizontal", "size": 13.7, "thickness": 1.3, "color": "#7a7a7a"}, "encoding": {"y": {"field": "lv", "type": "quantitative", "scale": {"domain": [0,1.5], "range": [149.7,37], "nice": false}}}},
       {"mark": {"type": "text", "text": "*", "fontSize": 15, "fontWeight": "bold", "color": "#222222", "baseline": "alphabetic", "dy": 0}, "encoding": {"y": {"field": "lv", "type": "quantitative", "scale": {"domain": [0,1.5], "range": [149.7,37], "nice": false}}}}
     ]}
    ]},
   {"width": 270, "height": 1, "data": {"values": []}, "mark": "point"},
   {"width": 530, "height": 474, "view": {"stroke": "#4d6fe0", "strokeWidth": 2},
    "resolve": {"scale": {"x": "independent", "y": "independent", "xOffset": "independent"}},
    "layer": [
     {"data": {"name": "bars"}, "transform": [{"filter": "datum.p === 'IPC36'"}],
      "encoding": {"x": {"field": "c", "type": "nominal", "title": null, "scale": {"domain": ["18:0;2/18:0;0","18:0;3/18:0;0","18:0;3/18:0;1"], "range": [47.3,254.7], "paddingInner": 0.288, "paddingOuter": 0.24, "align": 0.596}, "axis": {"orient": "bottom", "offset": -311}}},
      "layer": [
       {"mark": {"type": "bar", "stroke": "black", "strokeWidth": 1.8}, "encoding": {
         "xOffset": {"field": "g", "type": "nominal", "scale": {"domain": ["wt","niiA::ypkA"], "paddingInner": 0.27, "paddingOuter": 0.1}},
         "y": {"field": "v", "type": "quantitative", "scale": {"domain": [0,1.5], "range": [163,33], "nice": false}, "axis": {"orient": "left", "offset": -47.3, "values": [0,0.5,1,1.5], "tickCount": 4, "labelOverlap": false, "format": ".1f", "title": "AMM+AT/AMM+MN", "titleX": -25}},
         "fill": {"field": "g", "type": "nominal", "scale": {"domain": ["wt","niiA::ypkA"], "range": ["black","white"]}, "legend": null}}},
       {"transform": [{"filter": "isValid(datum.e)"}], "mark": {"type": "rule", "color": "#555555", "strokeWidth": 1.3}, "encoding": {
         "xOffset": {"field": "g", "type": "nominal", "scale": {"domain": ["wt","niiA::ypkA"], "paddingInner": 0.27, "paddingOuter": 0.1}},
         "y": {"field": "v", "type": "quantitative", "scale": {"domain": [0,1.5], "range": [163,33], "nice": false}}, "y2": {"field": "e"}}},
       {"transform": [{"filter": "isValid(datum.e)"}], "mark": {"type": "tick", "orient": "horizontal", "size": 6, "thickness": 1.3, "color": "#555555"}, "encoding": {
         "xOffset": {"field": "g", "type": "nominal", "scale": {"domain": ["wt","niiA::ypkA"], "paddingInner": 0.27, "paddingOuter": 0.1}},
         "y": {"field": "e", "type": "quantitative", "scale": {"domain": [0,1.5], "range": [163,33], "nice": false}}}},
       {"mark": {"type": "tick", "orient": "horizontal", "size": 42, "thickness": 2, "color": "#9a9a9a", "yOffset": 5}, "encoding": {"y": {"datum": 0, "type": "quantitative", "scale": {"domain": [0,1.5], "range": [163,33], "nice": false}}}},
       {"data": {"name": "brackets"}, "transform": [{"filter": "datum.p === 'IPC36'"}], "layer": [
         {"mark": {"type": "rule", "color": "#7a7a7a", "strokeWidth": 1.3}, "encoding": {"xOffset": {"datum": "wt", "type": "nominal", "scale": {"domain": ["wt","niiA::ypkA"], "paddingInner": 0.27, "paddingOuter": 0.1}}, "y": {"field": "a", "type": "quantitative", "scale": {"domain": [0,1.5], "range": [163,33], "nice": false}}, "y2": {"field": "lv"}}},
         {"mark": {"type": "rule", "color": "#7a7a7a", "strokeWidth": 1.3}, "encoding": {"xOffset": {"datum": "niiA::ypkA", "type": "nominal", "scale": {"domain": ["wt","niiA::ypkA"], "paddingInner": 0.27, "paddingOuter": 0.1}}, "y": {"field": "b", "type": "quantitative", "scale": {"domain": [0,1.5], "range": [163,33], "nice": false}}, "y2": {"field": "lv"}}},
         {"mark": {"type": "tick", "orient": "horizontal", "size": 24, "thickness": 1.3, "color": "#7a7a7a"}, "encoding": {"y": {"field": "lv", "type": "quantitative", "scale": {"domain": [0,1.5], "range": [163,33], "nice": false}}}},
         {"mark": {"type": "text", "text": "*", "fontSize": 15, "fontWeight": "bold", "color": "#222222", "baseline": "alphabetic", "dy": 0}, "encoding": {"y": {"field": "lv", "type": "quantitative", "scale": {"domain": [0,1.5], "range": [163,33], "nice": false}}}}
       ]},
       {"data": {"values": [{"p": "IPC36", "t": "IPC 36C"}]}, "mark": {"type": "text", "fontSize": 12.5, "fontWeight": "bold", "color": "black", "baseline": "middle", "dx": -1}, "encoding": {"x": {"datum": "18:0;3/18:0;0", "type": "nominal"}, "y": {"datum": 1.696, "type": "quantitative", "scale": {"domain": [0,1.5], "range": [163,33], "nice": false}}, "text": {"field": "t"}}}
      ]},
     {"data": {"name": "bars"}, "transform": [{"filter": "datum.p === 'IPC42'"}],
      "encoding": {"x": {"field": "c", "type": "nominal", "title": null, "scale": {"domain": ["18:0;2/24:0;0","18:0;3/24:0;0","18:0;3/24:0;1","18:0;3/24:0;2"], "range": [310.7,507.3], "paddingInner": 0.251, "paddingOuter": 0.173, "align": 0.44}, "axis": {"orient": "bottom", "offset": -310.3}}},
      "layer": [
       {"mark": {"type": "bar", "stroke": "black", "strokeWidth": 1.8}, "encoding": {
         "xOffset": {"field": "g", "type": "nominal", "scale": {"domain": ["wt","niiA::ypkA"], "paddingInner": 0.235, "paddingOuter": 0.1}},
         "y": {"field": "v", "type": "quantitative", "scale": {"domain": [0,1], "range": [163.7,33], "nice": false}, "axis": {"orient": "left", "offset": -310.7, "values": [0,0.2,0.4,0.6,0.8,1], "tickCount": 6, "labelOverlap": false, "format": ".1f", "title": "AMM+AT/AMM+MN", "titleX": -29}},
         "fill": {"field": "g", "type": "nominal", "scale": {"domain": ["wt","niiA::ypkA"], "range": ["black","white"]}, "legend": null}}},
       {"transform": [{"filter": "isValid(datum.e)"}], "mark": {"type": "rule", "color": "#555555", "strokeWidth": 1.3}, "encoding": {
         "xOffset": {"field": "g", "type": "nominal", "scale": {"domain": ["wt","niiA::ypkA"], "paddingInner": 0.235, "paddingOuter": 0.1}},
         "y": {"field": "v", "type": "quantitative", "scale": {"domain": [0,1], "range": [163.7,33], "nice": false}}, "y2": {"field": "e"}}},
       {"transform": [{"filter": "isValid(datum.e)"}], "mark": {"type": "tick", "orient": "horizontal", "size": 5, "thickness": 1.3, "color": "#555555"}, "encoding": {
         "xOffset": {"field": "g", "type": "nominal", "scale": {"domain": ["wt","niiA::ypkA"], "paddingInner": 0.235, "paddingOuter": 0.1}},
         "y": {"field": "e", "type": "quantitative", "scale": {"domain": [0,1], "range": [163.7,33], "nice": false}}}},
       {"mark": {"type": "tick", "orient": "horizontal", "size": 34, "thickness": 2, "color": "#9a9a9a", "yOffset": 5}, "encoding": {"y": {"datum": 0, "type": "quantitative", "scale": {"domain": [0,1], "range": [163.7,33], "nice": false}}}},
       {"data": {"values": [{"p": "IPC42", "t": "IPC 42C"}]}, "mark": {"type": "text", "fontSize": 12.5, "fontWeight": "bold", "color": "black", "baseline": "middle", "dx": -16}, "encoding": {"x": {"datum": "18:0;3/24:0;1", "type": "nominal"}, "y": {"datum": 1.13, "type": "quantitative", "scale": {"domain": [0,1], "range": [163.7,33], "nice": false}}, "text": {"field": "t"}}}
      ]},
     {"data": {"name": "bars"}, "transform": [{"filter": "datum.p === 'IPC44'"}],
      "encoding": {"x": {"field": "c", "type": "nominal", "title": null, "scale": {"domain": ["18:0;2/26:0;0","18:0;3/26:0;0","18:0;3/26:0;1","18:0;3/26:0;2"], "range": [55.3,261.3], "paddingInner": 0.278, "paddingOuter": 0.179, "align": 0.414}, "axis": {"orient": "bottom", "offset": -78}}},
      "layer": [
       {"mark": {"type": "bar", "stroke": "black", "strokeWidth": 1.8}, "encoding": {
         "xOffset": {"field": "g", "type": "nominal", "scale": {"domain": ["wt","niiA::ypkA"], "paddingInner": 0.311, "paddingOuter": 0.1}},
         "y": {"field": "v", "type": "quantitative", "scale": {"domain": [0,1.5], "range": [396,256.7], "nice": false}, "axis": {"orient": "left", "offset": -55.3, "values": [0,0.5,1,1.5], "tickCount": 4, "labelOverlap": false, "format": ".1f", "title": "AMM+AT/AMM+MN", "titleX": -23}},
         "fill": {"field": "g", "type": "nominal", "scale": {"domain": ["wt","niiA::ypkA"], "range": ["black","white"]}, "legend": null}}},
       {"transform": [{"filter": "isValid(datum.e)"}], "mark": {"type": "rule", "color": "#555555", "strokeWidth": 1.3}, "encoding": {
         "xOffset": {"field": "g", "type": "nominal", "scale": {"domain": ["wt","niiA::ypkA"], "paddingInner": 0.311, "paddingOuter": 0.1}},
         "y": {"field": "v", "type": "quantitative", "scale": {"domain": [0,1.5], "range": [396,256.7], "nice": false}}, "y2": {"field": "e"}}},
       {"transform": [{"filter": "isValid(datum.e)"}], "mark": {"type": "tick", "orient": "horizontal", "size": 5, "thickness": 1.3, "color": "#555555"}, "encoding": {
         "xOffset": {"field": "g", "type": "nominal", "scale": {"domain": ["wt","niiA::ypkA"], "paddingInner": 0.311, "paddingOuter": 0.1}},
         "y": {"field": "e", "type": "quantitative", "scale": {"domain": [0,1.5], "range": [396,256.7], "nice": false}}}},
       {"mark": {"type": "tick", "orient": "horizontal", "size": 33, "thickness": 2, "color": "#9a9a9a", "yOffset": 5}, "encoding": {"y": {"datum": 0, "type": "quantitative", "scale": {"domain": [0,1.5], "range": [396,256.7], "nice": false}}}},
       {"data": {"name": "brackets"}, "transform": [{"filter": "datum.p === 'IPC44'"}], "layer": [
         {"mark": {"type": "rule", "color": "#7a7a7a", "strokeWidth": 1.3}, "encoding": {"xOffset": {"datum": "wt", "type": "nominal", "scale": {"domain": ["wt","niiA::ypkA"], "paddingInner": 0.311, "paddingOuter": 0.1}}, "y": {"field": "a", "type": "quantitative", "scale": {"domain": [0,1.5], "range": [396,256.7], "nice": false}}, "y2": {"field": "lv"}}},
         {"mark": {"type": "rule", "color": "#7a7a7a", "strokeWidth": 1.3}, "encoding": {"xOffset": {"datum": "niiA::ypkA", "type": "nominal", "scale": {"domain": ["wt","niiA::ypkA"], "paddingInner": 0.311, "paddingOuter": 0.1}}, "y": {"field": "b", "type": "quantitative", "scale": {"domain": [0,1.5], "range": [396,256.7], "nice": false}}, "y2": {"field": "lv"}}},
         {"mark": {"type": "tick", "orient": "horizontal", "size": 19.3, "thickness": 1.3, "color": "#7a7a7a"}, "encoding": {"y": {"field": "lv", "type": "quantitative", "scale": {"domain": [0,1.5], "range": [396,256.7], "nice": false}}}},
         {"mark": {"type": "text", "text": "*", "fontSize": 15, "fontWeight": "bold", "color": "#222222", "baseline": "alphabetic", "dy": 0}, "encoding": {"y": {"field": "lv", "type": "quantitative", "scale": {"domain": [0,1.5], "range": [396,256.7], "nice": false}}}}
       ]},
       {"data": {"values": [{"p": "IPC44", "t": "IPC 44C"}]}, "mark": {"type": "text", "fontSize": 12.5, "fontWeight": "bold", "color": "black", "baseline": "middle", "dx": 18}, "encoding": {"x": {"datum": "18:0;3/26:0;0", "type": "nominal"}, "y": {"datum": 1.454, "type": "quantitative", "scale": {"domain": [0,1.5], "range": [396,256.7], "nice": false}}, "text": {"field": "t"}}}
      ]},
     {"data": {"name": "bars"}, "transform": [{"filter": "datum.p === 'IPC46'"}],
      "encoding": {"x": {"field": "c", "type": "nominal", "title": null, "scale": {"domain": ["20:0;3/26:0;0","20:0;3/26:0;1","20:0;3/26:0;2"], "range": [312.3,509], "paddingInner": 0.301, "paddingOuter": 0.125, "align": 0.52}, "axis": {"orient": "bottom", "offset": -77.3}}},
      "layer": [
       {"mark": {"type": "bar", "stroke": "black", "strokeWidth": 1.8}, "encoding": {
         "xOffset": {"field": "g", "type": "nominal", "scale": {"domain": ["wt","niiA::ypkA"], "paddingInner": 0.312, "paddingOuter": 0.1}},
         "y": {"field": "v", "type": "quantitative", "scale": {"domain": [0,1], "range": [396.7,266], "nice": false}, "axis": {"orient": "left", "offset": -312.3, "values": [0,0.2,0.4,0.6,0.8,1], "tickCount": 6, "labelOverlap": false, "format": ".1f", "title": "AMM+AT/AMM+MN", "titleX": -27}},
         "fill": {"field": "g", "type": "nominal", "scale": {"domain": ["wt","niiA::ypkA"], "range": ["black","white"]}, "legend": null}}},
       {"transform": [{"filter": "isValid(datum.e)"}], "mark": {"type": "rule", "color": "#555555", "strokeWidth": 1.3}, "encoding": {
         "xOffset": {"field": "g", "type": "nominal", "scale": {"domain": ["wt","niiA::ypkA"], "paddingInner": 0.312, "paddingOuter": 0.1}},
         "y": {"field": "v", "type": "quantitative", "scale": {"domain": [0,1], "range": [396.7,266], "nice": false}}, "y2": {"field": "e"}}},
       {"transform": [{"filter": "isValid(datum.e)"}], "mark": {"type": "tick", "orient": "horizontal", "size": 6, "thickness": 1.3, "color": "#555555"}, "encoding": {
         "xOffset": {"field": "g", "type": "nominal", "scale": {"domain": ["wt","niiA::ypkA"], "paddingInner": 0.312, "paddingOuter": 0.1}},
         "y": {"field": "e", "type": "quantitative", "scale": {"domain": [0,1], "range": [396.7,266], "nice": false}}}},
       {"mark": {"type": "tick", "orient": "horizontal", "size": 40, "thickness": 2, "color": "#9a9a9a", "yOffset": 5}, "encoding": {"y": {"datum": 0, "type": "quantitative", "scale": {"domain": [0,1], "range": [396.7,266], "nice": false}}}},
       {"data": {"name": "brackets"}, "transform": [{"filter": "datum.p === 'IPC46'"}], "layer": [
         {"mark": {"type": "rule", "color": "#7a7a7a", "strokeWidth": 1.3}, "encoding": {"xOffset": {"datum": "wt", "type": "nominal", "scale": {"domain": ["wt","niiA::ypkA"], "paddingInner": 0.312, "paddingOuter": 0.1}}, "y": {"field": "a", "type": "quantitative", "scale": {"domain": [0,1], "range": [396.7,266], "nice": false}}, "y2": {"field": "lv"}}},
         {"mark": {"type": "rule", "color": "#7a7a7a", "strokeWidth": 1.3}, "encoding": {"xOffset": {"datum": "niiA::ypkA", "type": "nominal", "scale": {"domain": ["wt","niiA::ypkA"], "paddingInner": 0.312, "paddingOuter": 0.1}}, "y": {"field": "b", "type": "quantitative", "scale": {"domain": [0,1], "range": [396.7,266], "nice": false}}, "y2": {"field": "lv"}}},
         {"mark": {"type": "tick", "orient": "horizontal", "size": 24.7, "thickness": 1.3, "color": "#7a7a7a"}, "encoding": {"y": {"field": "lv", "type": "quantitative", "scale": {"domain": [0,1], "range": [396.7,266], "nice": false}}}},
         {"mark": {"type": "text", "text": "*", "fontSize": 15, "fontWeight": "bold", "color": "#222222", "baseline": "alphabetic", "dy": 0}, "encoding": {"y": {"field": "lv", "type": "quantitative", "scale": {"domain": [0,1], "range": [396.7,266], "nice": false}}}}
       ]},
       {"data": {"values": [{"p": "IPC46", "t": "IPC 46C"}]}, "mark": {"type": "text", "fontSize": 12.5, "fontWeight": "bold", "color": "black", "baseline": "middle", "dx": 3}, "encoding": {"x": {"datum": "20:0;3/26:0;1", "type": "nominal"}, "y": {"datum": 1.038, "type": "quantitative", "scale": {"domain": [0,1], "range": [396.7,266], "nice": false}}, "text": {"field": "t"}}}
      ]}
    ]}
  ], "spacing": 0, "bounds": "flush", "resolve": {"scale": {"xOffset": "independent"}}}
 ]}
]}
]
}
